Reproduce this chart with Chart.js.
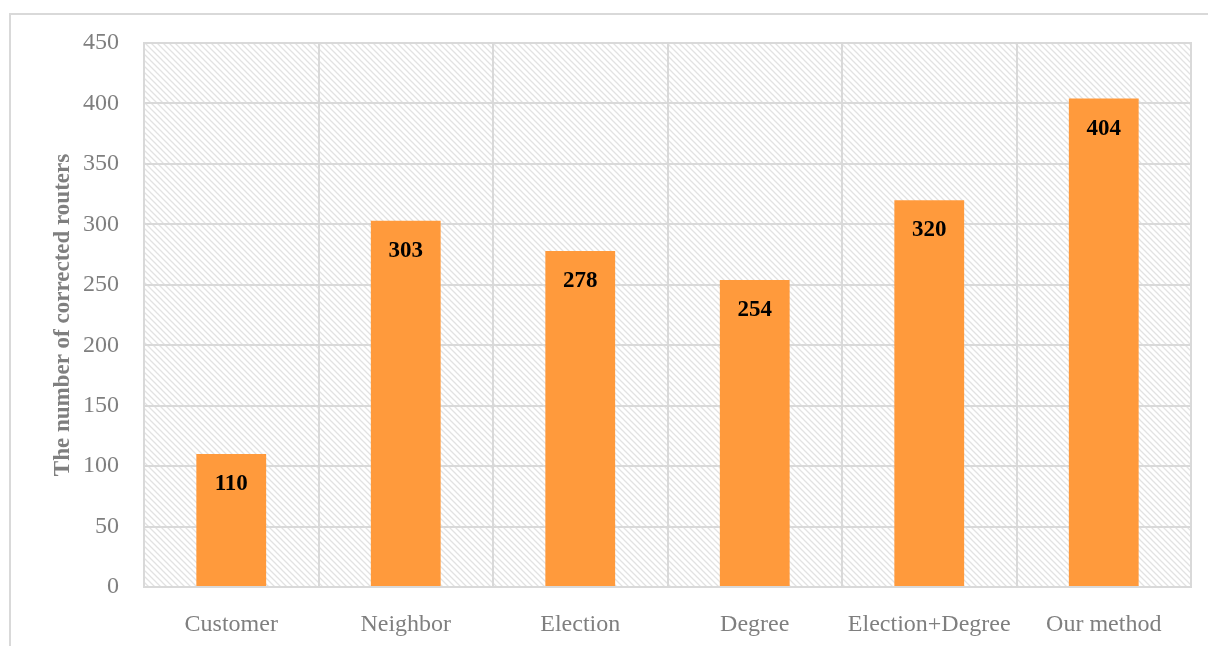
<!DOCTYPE html>
<html>
<head>
<meta charset="utf-8">
<script src="https://cdn.jsdelivr.net/npm/chart.js@4.4.1/dist/chart.umd.min.js"></script>
<style>
  html, body { margin: 0; padding: 0; background: #fff; overflow: hidden; }
  #wrap { position: relative; width: 1208px; height: 646px; }
  #frame { position: absolute; left: 9px; top: 13px; width: 1300px; height: 700px; border: 2px solid #d9d9d9; box-sizing: border-box; }
  canvas { position: absolute; left: 0; top: 0; }
</style>
</head>
<body>
<div id="wrap">
  <div id="frame"></div>
  <canvas id="chart" width="1208" height="646"></canvas>
</div>
<script>
// DATA
const categories = ["Customer", "Neighbor", "Election", "Degree", "Election+Degree", "Our method"];
const routerCounts = [110, 303, 278, 254, 320, 404];
const yTicks = [0, 50, 100, 150, 200, 250, 300, 350, 400, 450];

// hatched background tile
function makeHatch(ctx) {
  const tile = document.createElement("canvas");
  tile.width = 6;
  tile.height = 6;
  const t = tile.getContext("2d");
  t.strokeStyle = "#e2e2e2";
  t.lineWidth = 1.3;
  t.beginPath();
  t.moveTo(-1, -1); t.lineTo(7, 7);
  t.moveTo(-1, 5); t.lineTo(1, 7);
  t.moveTo(5, -1); t.lineTo(7, 1);
  t.stroke();
  return ctx.createPattern(tile, "repeat");
}

const plotBackground = {
  id: "plotBackground",
  beforeDraw(chart) {
    const { ctx, chartArea: a } = chart;
    ctx.save();
    ctx.fillStyle = makeHatch(ctx);
    ctx.fillRect(a.left, a.top, a.right - a.left, a.bottom - a.top);
    ctx.restore();
  },
  afterDatasetsDraw(chart) {
    const { ctx, chartArea: a } = chart;
    ctx.save();
    ctx.strokeStyle = "#d9d9d9";
    ctx.lineWidth = 2;
    ctx.strokeRect(a.left, a.top, a.right - a.left, a.bottom - a.top);
    ctx.restore();
  }
};

// value labels inside the top of each bar
const barLabels = {
  id: "barLabels",
  afterDatasetsDraw(chart) {
    const { ctx } = chart;
    const meta = chart.getDatasetMeta(0);
    ctx.save();
    ctx.font = "bold 23px 'Liberation Serif'";
    ctx.fillStyle = "#000";
    ctx.textAlign = "center";
    ctx.textBaseline = "middle";
    meta.data.forEach((bar, i) => {
      ctx.fillText(routerCounts[i], bar.x, bar.y + 30);
    });
    ctx.restore();
  }
};

const ctx = document.getElementById("chart").getContext("2d");

new Chart(ctx, {
  type: "bar",
  data: {
    labels: categories,
    datasets: [{
      data: routerCounts,
      backgroundColor: "#ff9a3c",
      barPercentage: 0.4,
      categoryPercentage: 1
    }]
  },
  options: {
    responsive: false,
    animation: false,
    layout: { padding: { top: 43, right: 17, left: 0, bottom: 0 } },
    plugins: {
      legend: { display: false },
      tooltip: { enabled: false }
    },
    scales: {
      x: {
        grid: { color: "#d9d9d9", lineWidth: 2, offset: true, drawTicks: false },
        border: { display: false },
        ticks: {
          color: "#7f7f7f",
          padding: 23,
          maxRotation: 0,
          font: { family: "'Liberation Serif'", size: 24 }
        },
        afterFit: s => { s.height = 59; }
      },
      y: {
        min: 0,
        max: 450,
        afterBuildTicks: s => { s.ticks = yTicks.map(v => ({ value: v })); },
        grid: { color: "#d9d9d9", lineWidth: 2, drawTicks: false },
        border: { display: false },
        ticks: {
          color: "#7f7f7f",
          padding: 25,
          font: { family: "'Liberation Serif'", size: 24 }
        },
        title: {
          display: true,
          text: "The number of corrected routers",
          color: "#7f7f7f",
          padding: { top: 49, bottom: 0 },
          font: { family: "'Liberation Serif'", size: 23, weight: "bold" }
        },
        afterFit: s => { s.width = 144; }
      }
    }
  },
  plugins: [plotBackground, barLabels]
});
</script>
</body>
</html>
